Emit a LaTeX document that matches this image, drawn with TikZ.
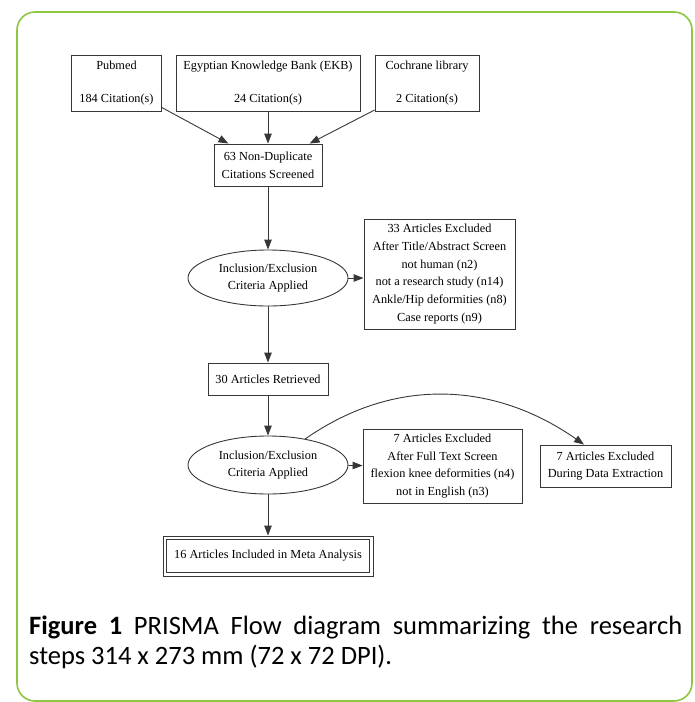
\documentclass[tikz,border=0pt]{standalone}
\usepackage{fontspec}
\setmainfont{Liberation Serif}
\newfontfamily\capfont{Carlito}
\usetikzlibrary{shapes.geometric,arrows.meta}
\definecolor{framegreen}{RGB}{141,198,63}
\definecolor{linegray}{RGB}{55,55,55}

\begin{document}
\begin{tikzpicture}[x=1pt,y=-1pt,-{Triangle[length=10pt,width=7.5pt]}]
        \tikzstyle{box}=[rectangle,draw=linegray,line width=0.9pt,inner sep=0pt,align=center,
                         font=\fontsize{12.3}{17.8}\selectfont]
        \tikzstyle{crit}=[ellipse,draw=linegray,line width=0.9pt,inner sep=0pt,align=center,
                          minimum width=160pt,font=\fontsize{12.3}{17.8}\selectfont]
        \tikzstyle{edge}=[draw=linegray,line width=0.9pt]

        \useasboundingbox (0,0) rectangle (695,702);
        \draw[-,framegreen,line width=1.6pt,rounded corners=18pt] (17,12) rectangle (692,701);

        % sources
        \foreach \name/\x/\w/\src/\num in {src-1/116.5/90/Pubmed/184,
                                           src-2/268/184/{Egyptian Knowledge Bank (EKB)}/24,
                                           src-3/427/104/{Cochrane library}/2}
          \node[box,minimum width=\w,minimum height=56] (\name) at (\x,83) {\src\\[15pt]\num~Citation(s)};

        \node[box,minimum width=108,minimum height=42] (screen) at (268,165) {63 Non-Duplicate\\Citations Screened};
        \node[crit,minimum height=56] (crit-1) at (268,278) {Inclusion/Exclusion\\Criteria Applied};
        \node[box,minimum width=151,minimum height=110] (excl-1) at (439.5,274)
          {33 Articles Excluded\\After Title/Abstract Screen\\not human (n2)\\not a research study (n14)\\Ankle/Hip deformities (n8)\\Case reports (n9)};
        \node[box,minimum width=120,minimum height=32] (retr) at (268,379) {30 Articles Retrieved};
        \node[crit,minimum height=58] (crit-2) at (268,465) {Inclusion/Exclusion\\Criteria Applied};
        \node[box,minimum width=159,minimum height=74] (excl-2) at (442.5,466)
          {7 Articles Excluded\\After Full Text Screen\\flexion knee deformities (n4)\\not in English (n3)};
        \node[box,minimum width=131,minimum height=42] (excl-3) at (605.5,466) {7 Articles Excluded\\During Data Extraction};
        \node[box,minimum width=210,minimum height=40] (incl) at (268,556)
          {16 Articles Included in Meta Analysis};
        \draw[-,linegray,line width=0.9pt] ([shift={(4,4)}]incl.north west) rectangle ([shift={(-4,-4)}]incl.south east);

        \foreach \from/\to in {src-1/screen,src-2/screen,src-3/screen,screen/crit-1,
                               crit-1/retr,retr/crit-2,crit-2/excl-2,crit-2/incl}
          { \draw[edge] (\from) -- (\to); }
        \draw[edge] (crit-1) -- (crit-1 -| excl-1.west);
        \draw[edge] (crit-2.35) to[out=35,in=145] (excl-3.135);

        \node[anchor=base west,text width=653pt,align=justify,inner sep=0pt,
              font=\capfont\fontsize{26.5}{30}\selectfont] (caption) at (29,634)
          {\hyphenpenalty=10000 \textbf{Figure 1} PRISMA Flow diagram summarizing the research steps 314 x 273 mm (72 x 72 DPI).};
      \end{tikzpicture}
\end{document}
